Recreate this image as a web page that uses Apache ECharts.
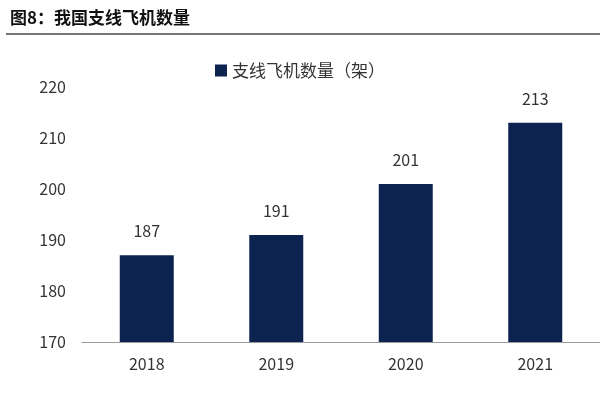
<!DOCTYPE html><html><head><meta charset="utf-8"><script src="https://cdn.jsdelivr.net/npm/echarts@6/dist/echarts.min.js"></script>
<style>body{margin:0}#c{width:600px;height:400px}</style></head><body><div id="c"></div><script>
const categories=['2018','2019','2020','2021'];
const values=[187,191,201,213];
const seriesName='支线飞机数量（架）';
const chart=echarts.init(document.getElementById('c'));
const F='"Noto Sans CJK SC", sans-serif';
chart.setOption({
 animation:false,
 title:{text:'图8：我国支线飞机数量',left:5,top:4,textStyle:{fontFamily:F,fontSize:17,fontWeight:'bold',color:'#111'}},
 graphic:[{type:'line',shape:{x1:6,y1:34,x2:600,y2:34},style:{stroke:'#777',lineWidth:2}}],
 legend:{top:57,left:'center',itemWidth:12,itemHeight:12,itemGap:10,icon:'rect',textStyle:{fontFamily:F,fontSize:17,color:'#333'},data:[seriesName]},
 grid:{left:82,width:533,top:87,bottom:58},
 xAxis:{type:'category',data:categories,axisTick:{show:false},axisLine:{lineStyle:{color:'#999'}},axisLabel:{fontFamily:F,fontSize:16,color:'#333',margin:14}},
 yAxis:{type:'value',min:170,max:220,interval:10,splitLine:{show:false},axisLine:{show:false},axisLabel:{fontFamily:F,fontSize:16,color:'#333',margin:16}},
 series:[{name:seriesName,type:'bar',data:values,barWidth:54,itemStyle:{color:'#0c2350'},label:{show:true,position:'top',distance:16,fontFamily:F,fontSize:16,color:'#333'}}]
});
</script></body></html>
